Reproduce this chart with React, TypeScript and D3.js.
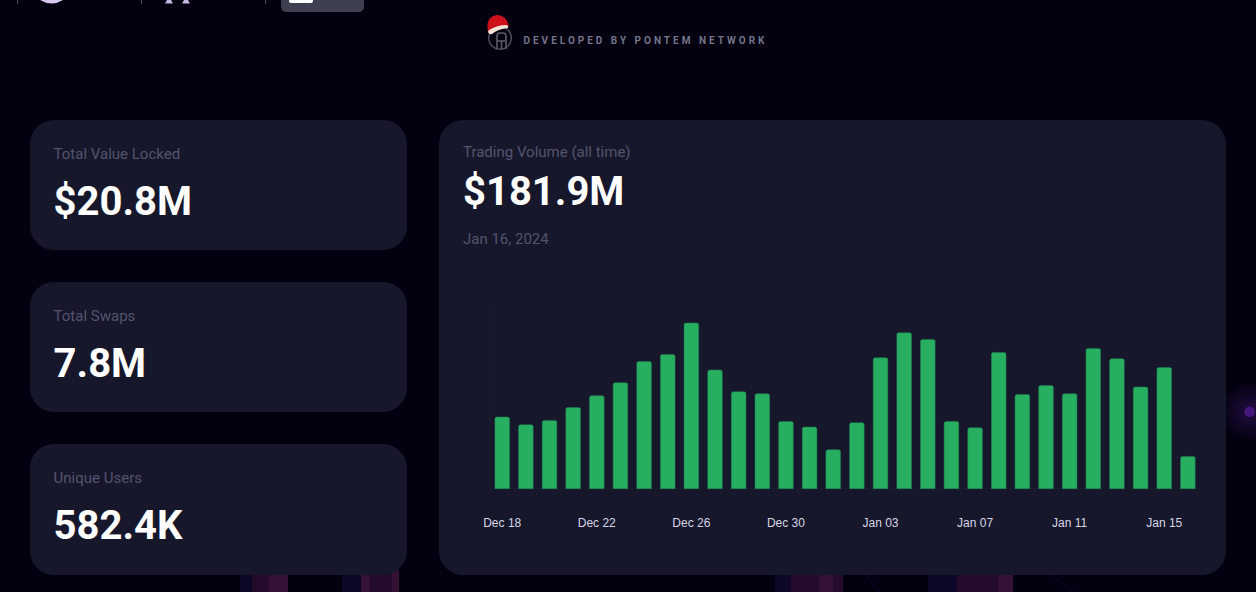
import { useMemo } from 'react'
import * as d3 from 'd3'

const WIDTH = 1256
const HEIGHT = 592

const days = [
  'Dec 18', 'Dec 19', 'Dec 20', 'Dec 21', 'Dec 22', 'Dec 23', 'Dec 24', 'Dec 25', 'Dec 26', 'Dec 27',
  'Dec 28', 'Dec 29', 'Dec 30', 'Dec 31', 'Jan 01', 'Jan 02', 'Jan 03', 'Jan 04', 'Jan 05', 'Jan 06',
  'Jan 07', 'Jan 08', 'Jan 09', 'Jan 10', 'Jan 11', 'Jan 12', 'Jan 13', 'Jan 14', 'Jan 15', 'Jan 16',
]
// daily volume (arbitrary units, no y axis in the original)
const volume = [
  71.7, 64, 68.3, 81.3, 93, 106, 127.3, 134.3, 165.7, 118.7,
  97, 95, 67.3, 61.7, 39, 66, 131, 156, 149.3, 67.3,
  61, 136.3, 94.3, 103.3, 95, 140.3, 130, 101.7, 121.3, 32.3,
]
const tickDays = ['Dec 18', 'Dec 22', 'Dec 26', 'Dec 30', 'Jan 03', 'Jan 07', 'Jan 11', 'Jan 15']
const volumeTop = 183.7

const stats = [
  { label: 'Total Value Locked', value: '$20.8M', y: 120, h: 130 },
  { label: 'Total Swaps', value: '7.8M', y: 282, h: 130 },
  { label: 'Unique Users', value: '582.4K', y: 444, h: 131 },
]

const BLUE = '#0d0626'
const DIM = '#240a2b'
const BRIGHT = '#361136'
const stripes: [number, number, string][] = [
  [240, 12, BLUE], [252, 17, DIM], [269, 19, BRIGHT],
  [342, 19, BLUE], [361, 9, BRIGHT], [370, 22, DIM], [392, 7, BRIGHT],
  [775, 16, BLUE], [791, 28, DIM], [819, 14, BRIGHT], [833, 10, DIM],
  [928, 29, BLUE], [957, 41, DIM], [998, 15, BRIGHT],
]

const sans = 'Roboto, sans-serif'

export default function App() {
  const x = useMemo(
    () => d3.scaleBand<string>().domain(days).range([490.4, 1199.7]).paddingInner(0.38).paddingOuter(0.19),
    [],
  )
  const y = useMemo(() => d3.scaleLinear().domain([0, volumeTop]).range([488.7, 305]), [])

  return (
    <svg
      width={WIDTH}
      height={HEIGHT}
      viewBox={`0 0 ${WIDTH} ${HEIGHT}`}
      style={{ position: 'absolute', left: 0, top: 0, display: 'block' }}
    >
      <defs>
        <radialGradient id="glow">
          <stop offset="0%" stopColor="#4a1a80" stopOpacity={0.45} />
          <stop offset="100%" stopColor="#4a1a80" stopOpacity={0} />
        </radialGradient>
      </defs>
      <rect width={WIDTH} height={HEIGHT} fill="#03010f" />

      {/* background decoration */}
      <circle cx={1249.7} cy={411.7} r={30} fill="url(#glow)" />
      <circle cx={1249.7} cy={411.7} r={5.3} fill="#44187a" />
      {stripes.map(([sx, w, c]) => (
        <rect key={sx} x={sx} y={570} width={w} height={22} fill={c} />
      ))}
      <path d="M866 575 L880 592 M1050 575 L1075 592" stroke="#080420" strokeWidth={2} fill="none" />

      {/* cropped nav bar */}
      {[17.5, 141.5, 265.5].map((sx) => (
        <line key={sx} x1={sx} x2={sx} y1={0} y2={4} stroke="#4a4a58" />
      ))}
      <path d="M40 0 Q52 7 63 0 Z" fill="#d8c8f0" />
      <path d="M167 0 h4 l2 3.5 h-8 Z" fill="#c8b8e4" />
      <path d="M184 0 h4 l2 3.5 h-8 Z" fill="#c8b8e4" />
      <path d="M281 0 H364 V6 Q364 12 358 12 H287 Q281 12 281 6 Z" fill="#3f3f52" />
      <path d="M289 0 V1 Q289 3 291 3 H311 Q313 3 313 1 V0 Z" fill="#ffffff" />

      {/* developed by */}
      <circle cx={500} cy={38} r={11.3} fill="none" stroke="#4c4c5a" strokeWidth={1.4} />
      <path
        d="M497 49 V36 Q497 33 500 33 H503 Q506 33 506 36 V49 M497 41 H506 M501.5 41 V49"
        fill="none"
        stroke="#5c5c6a"
        strokeWidth={1.6}
      />
      <path d="M488 32 Q485 17 497 15 Q506 15 509 26 L498 28 Z" fill="#cc111b" />
      <path d="M488 32 Q488 30 491 29 Q498 25 506 25 Q509 26 508 28 Q498 29 492 34 Q489 35 488 32 Z" fill="#f6e2d6" />
      <text
        x={523.5}
        y={44}
        fill="#74748a"
        fontFamily={sans}
        fontSize={10}
        fontWeight={700}
        letterSpacing={3}
      >
        DEVELOPED BY PONTEM NETWORK
      </text>

      {/* stat cards */}
      {stats.map((s) => (
        <g key={s.label}>
          <rect x={30} y={s.y} width={377} height={s.h} rx={24} fill="#16172b" />
          <text x={53.6} y={s.y + 39} fill="#55536e" fontFamily={sans} fontSize={15}>
            {s.label}
          </text>
          <text x={53.6} y={s.y + 95} fill="#ffffff" fontFamily={sans} fontSize={40} fontWeight={700}>
            {s.value}
          </text>
        </g>
      ))}

      {/* volume card */}
      <rect x={439} y={120} width={787} height={455} rx={24} fill="#16172b" />
      <text x={463} y={157} fill="#55536e" fontFamily={sans} fontSize={15}>
        Trading Volume (all time)
      </text>
      <text x={463} y={205} fill="#ffffff" fontFamily={sans} fontSize={40} fontWeight={700}>
        $181.9M
      </text>
      <text x={463} y={244} fill="#55536e" fontFamily={sans} fontSize={15}>
        Jan 16, 2024
      </text>

      {/* axes */}
      <line x1={490.7} x2={490.7} y1={305} y2={488.7} stroke="#1c1d30" />
      <line x1={490.7} x2={1200} y1={488.7} y2={488.7} stroke="#1c1d30" />

      {volume.map((v, i) => {
        const bx = x(days[i]) as number
        const top = y(v)
        const bw = x.bandwidth()
        return (
          <path
            key={days[i]}
            d={`M${bx} ${y(0)} V${top + 2} Q${bx} ${top} ${bx + 2} ${top} H${bx + bw - 2} Q${bx + bw} ${top} ${bx + bw} ${top + 2} V${y(0)} Z`}
            fill="#27ae60"
            stroke="#1f7f52"
            strokeWidth={0.5}
          />
        )
      })}

      {tickDays.map((d) => (
        <text
          key={d}
          x={(x(d) as number) + x.bandwidth() / 2}
          y={527}
          textAnchor="middle"
          fill="#d6d6e6"
          fontFamily="'Liberation Sans', sans-serif"
          fontSize={12}
        >
          {d}
        </text>
      ))}
    </svg>
  )
}
